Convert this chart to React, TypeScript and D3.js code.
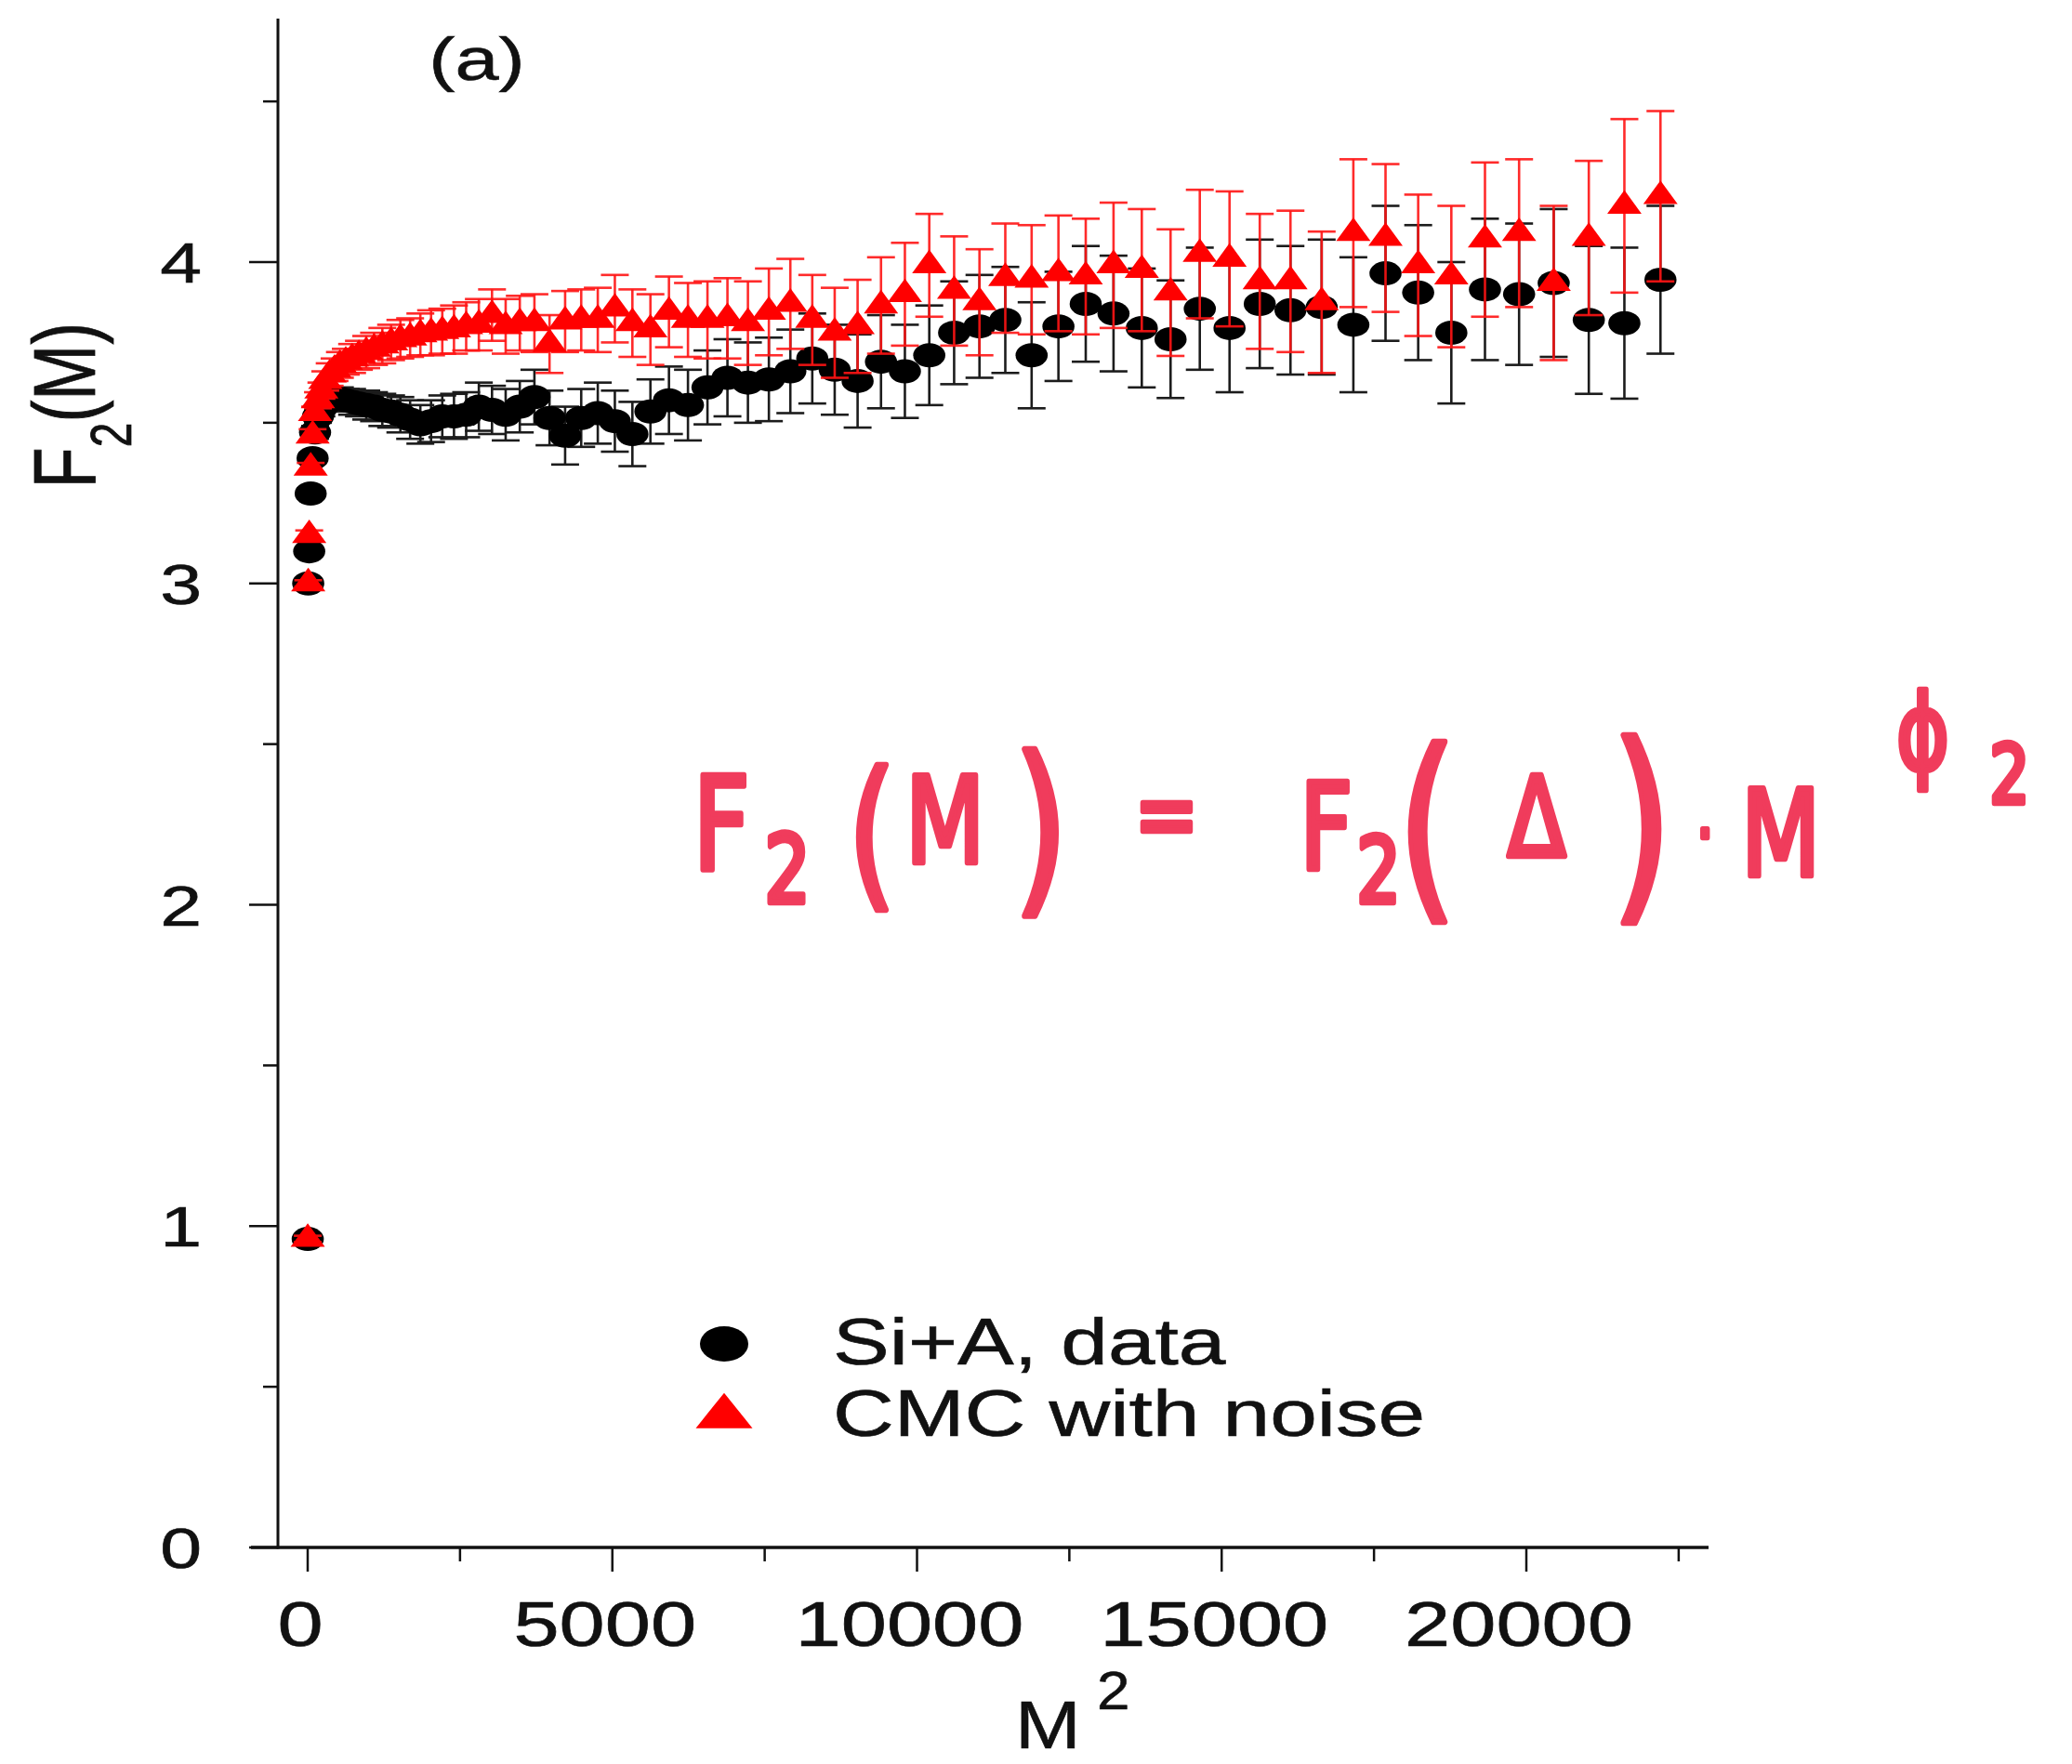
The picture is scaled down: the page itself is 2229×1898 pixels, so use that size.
import React, { useEffect, useRef } from 'react';
import * as d3 from 'd3';

// M^2 bins (odd M from 1 to 149)
const m2Values = [
  1, 9, 25, 49, 81, 121, 169, 225, 289, 361,
  441, 529, 625, 729, 841, 961, 1089, 1225, 1369, 1521,
  1681, 1849, 2025, 2209, 2401, 2601, 2809, 3025, 3249, 3481,
  3721, 3969, 4225, 4489, 4761, 5041, 5329, 5625, 5929, 6241,
  6561, 6889, 7225, 7569, 7921, 8281, 8649, 9025, 9409, 9801,
  10201, 10609, 11025, 11449, 11881, 12321, 12769, 13225, 13689, 14161,
  14641, 15129, 15625, 16129, 16641, 17161, 17689, 18225, 18769, 19321,
  19881, 20449, 21025, 21609, 22201,
];

// Si+A, data
const siaF2 = [
  0.96, 3.00, 3.10, 3.28, 3.39,
  3.47, 3.52, 3.545, 3.56, 3.57,
  3.575, 3.575, 3.57, 3.565, 3.56,
  3.555, 3.55, 3.54, 3.535, 3.525,
  3.51, 3.495, 3.505, 3.52, 3.52,
  3.525, 3.55, 3.54, 3.525, 3.55,
  3.58, 3.515, 3.46, 3.515, 3.53,
  3.505, 3.465, 3.535, 3.57, 3.555,
  3.61, 3.64, 3.625, 3.635, 3.66,
  3.70, 3.665, 3.63, 3.69, 3.66,
  3.71, 3.78, 3.80, 3.82, 3.71,
  3.80, 3.87, 3.84, 3.795, 3.76,
  3.855, 3.795, 3.87, 3.85, 3.86,
  3.805, 3.965, 3.905, 3.78, 3.915,
  3.90, 3.935, 3.82, 3.81, 3.945,
];
const siaErr = [
  0.01, 0.01, 0.01, 0.015, 0.015,
  0.02, 0.02, 0.025, 0.025, 0.03,
  0.03, 0.035, 0.035, 0.04, 0.04,
  0.045, 0.045, 0.05, 0.05, 0.055,
  0.06, 0.06, 0.065, 0.065, 0.07,
  0.07, 0.075, 0.075, 0.08, 0.08,
  0.085, 0.085, 0.09, 0.09, 0.095,
  0.095, 0.1, 0.1, 0.105, 0.11,
  0.115, 0.12, 0.125, 0.13, 0.13,
  0.14, 0.14, 0.145, 0.145, 0.145,
  0.155, 0.16, 0.16, 0.165, 0.165,
  0.17, 0.18, 0.18, 0.185, 0.183,
  0.19, 0.2, 0.2, 0.2, 0.21,
  0.21, 0.21, 0.21, 0.22, 0.22,
  0.22, 0.23, 0.23, 0.235, 0.23,
];

// CMC with noise
const cmcF2 = [
  0.96, 3.00, 3.15, 3.36, 3.46,
  3.53, 3.57, 3.60, 3.63, 3.65,
  3.665, 3.68, 3.69, 3.70, 3.71,
  3.72, 3.73, 3.74, 3.75, 3.76,
  3.765, 3.775, 3.78, 3.785, 3.79,
  3.80, 3.805, 3.835, 3.80, 3.81,
  3.81, 3.745, 3.815, 3.82, 3.82,
  3.855, 3.81, 3.79, 3.845, 3.82,
  3.82, 3.825, 3.81, 3.845, 3.87,
  3.82, 3.78, 3.80, 3.865, 3.90,
  3.99, 3.91, 3.875, 3.95, 3.945,
  3.965, 3.955, 3.99, 3.975, 3.905,
  4.025, 4.01, 3.94, 3.94, 3.875,
  4.09, 4.075, 3.99, 3.955, 4.07,
  4.09, 3.935, 4.075, 4.175, 4.205,
];
const cmcErr = [
  0.01, 0.01, 0.015, 0.015, 0.02,
  0.02, 0.025, 0.025, 0.03, 0.035,
  0.035, 0.04, 0.04, 0.045, 0.045,
  0.05, 0.05, 0.055, 0.055, 0.06,
  0.06, 0.065, 0.07, 0.07, 0.075,
  0.075, 0.08, 0.08, 0.085, 0.085,
  0.09, 0.09, 0.095, 0.095, 0.1,
  0.105, 0.105, 0.11, 0.11, 0.115,
  0.12, 0.125, 0.13, 0.135, 0.14,
  0.14, 0.14, 0.145, 0.15, 0.16,
  0.16, 0.17, 0.165, 0.17, 0.17,
  0.18, 0.18, 0.195, 0.19, 0.197,
  0.2, 0.21, 0.21, 0.22, 0.22,
  0.23, 0.23, 0.22, 0.22, 0.24,
  0.23, 0.24, 0.24, 0.27, 0.265,
];

const xMajorTicks = [0, 5000, 10000, 15000, 20000];
const xMinorTicks = [2500, 7500, 12500, 17500, 22500];
const yMajorTicks = [0, 1, 2, 3, 4];
const yMinorTicks = [0.5, 1.5, 2.5, 3.5, 4.5];
const legendLabels = ['Si+A, data', 'CMC with noise'];

const WIDTH = 2229;
const HEIGHT = 1898;
const FONT = '"Liberation Sans", Arial, Helvetica, sans-serif';
const PINK = '#f03c5c';

// handwritten annotation, one glyph per box [x0, x1, y0, y1]
const formulaGlyphs = [
  { ch: 'F', box: [753, 803, 832, 938] },
  { ch: '2', box: [822, 870, 893, 974] },
  { ch: '(', box: [924, 952, 820, 981] },
  { ch: 'M', box: [981, 1052, 832, 931] },
  { ch: ')', box: [1102, 1137, 803, 988] },
  { ch: '=', box: [1223, 1287, 860, 896] },
  { ch: 'F', box: [1400, 1457, 839, 938] },
  { ch: '2', box: [1459, 1505, 896, 974] },
  { ch: '(', box: [1516, 1555, 796, 995] },
  { ch: 'Δ', box: [1621, 1685, 832, 924] },
  { ch: ')', box: [1741, 1791, 789, 995] },
  { ch: '·', box: [1827, 1841, 889, 903] },
  { ch: 'M', box: [1876, 1955, 846, 945] },
  { ch: 'ϕ', box: [2040, 2097, 739, 853] },
  { ch: '2', box: [2118, 2204, 796, 867] },
];

function App() {
  const svgRef = useRef<SVGSVGElement>(null);

  useEffect(() => {
    if (!svgRef.current) return;
    const svg = d3.select(svgRef.current);
    svg.selectAll('*').remove();

    const x = d3.scaleLinear().domain([0, 20000]).range([331, 1642]);
    const y = d3.scaleLinear().domain([0, 4]).range([1665, 282]);
    const axisX = 299;
    const axisY = y(0);

    // text stretched horizontally like the original scan
    const label = (g, px, py, s, size, anchor, sx) =>
      g.append('text')
        .attr('transform', `translate(${px},${py}) scale(${sx},1)`)
        .attr('text-anchor', anchor)
        .attr('font-family', FONT)
        .attr('font-size', size)
        .attr('fill', '#111')
        .attr('stroke', '#111')
        .attr('stroke-width', 0.6)
        .text(s);

    // axes
    svg.append('line')
      .attr('x1', axisX).attr('x2', axisX)
      .attr('y1', 20).attr('y2', axisY + 1.5)
      .attr('stroke', '#111').attr('stroke-width', 3);
    svg.append('line')
      .attr('x1', 270).attr('x2', 1838)
      .attr('y1', axisY).attr('y2', axisY)
      .attr('stroke', '#111').attr('stroke-width', 3.5);

    // y ticks
    svg.selectAll('line.ymaj').data(yMajorTicks).join('line')
      .attr('class', 'ymaj')
      .attr('x1', axisX - 31).attr('x2', axisX)
      .attr('y1', d => y(d)).attr('y2', d => y(d))
      .attr('stroke', '#111').attr('stroke-width', 2.5);
    svg.selectAll('line.ymin').data(yMinorTicks).join('line')
      .attr('class', 'ymin')
      .attr('x1', axisX - 16).attr('x2', axisX)
      .attr('y1', d => y(d)).attr('y2', d => y(d))
      .attr('stroke', '#111').attr('stroke-width', 2.5);
    yMajorTicks.forEach(v => label(svg, 217, y(v) + 22, String(v), 62, 'end', 1.3));

    // x ticks
    svg.selectAll('line.xmaj').data(xMajorTicks).join('line')
      .attr('class', 'xmaj')
      .attr('x1', d => x(d)).attr('x2', d => x(d))
      .attr('y1', axisY).attr('y2', axisY + 26)
      .attr('stroke', '#111').attr('stroke-width', 2.5);
    svg.selectAll('line.xmin').data(xMinorTicks).join('line')
      .attr('class', 'xmin')
      .attr('x1', d => x(d)).attr('x2', d => x(d))
      .attr('y1', axisY).attr('y2', axisY + 15)
      .attr('stroke', '#111').attr('stroke-width', 2.5);
    xMajorTicks.forEach(v => label(svg, x(v) - 8, 1771, String(v), 68, 'middle', 1.3));

    // axis titles
    label(svg, 1092, 1881, 'M', 72, 'start', 1.18);
    label(svg, 1180, 1839, '2', 58, 'start', 1.1);

    const yTitle = svg.append('text')
      .attr('transform', 'translate(102,436) scale(1.3,1) rotate(-90)')
      .attr('text-anchor', 'middle')
      .attr('font-family', FONT)
      .attr('font-size', 72)
      .attr('fill', '#111')
      .attr('stroke', '#111')
      .attr('stroke-width', 0.6);
    yTitle.append('tspan').text('F');
    yTitle.append('tspan').attr('font-size', 48).attr('dy', 30).text('2');
    yTitle.append('tspan').attr('dy', -30).text('(M)');

    label(svg, 513, 86, '(a)', 65, 'middle', 1.3);

    const circle = d3.symbol(d3.symbolCircle, Math.PI * 13 * 13)();
    const triangle = d3.symbol(d3.symbolTriangle, 372)();

    const drawSeries = (vals, errs, color, barColor, shape, sx) => {
      const rows = m2Values.map((m, i) => ({ m, v: vals[i], e: errs[i] }));
      const g = svg.append('g');
      const bars = g.append('g')
        .attr('stroke', barColor).attr('stroke-width', 2.6).attr('fill', 'none');
      bars.selectAll('line.v').data(rows).join('line')
        .attr('class', 'v')
        .attr('x1', d => x(d.m)).attr('x2', d => x(d.m))
        .attr('y1', d => y(d.v + d.e)).attr('y2', d => y(d.v - d.e));
      bars.selectAll('line.t').data(rows).join('line')
        .attr('class', 't')
        .attr('x1', d => x(d.m) - 15).attr('x2', d => x(d.m) + 15)
        .attr('y1', d => y(d.v + d.e)).attr('y2', d => y(d.v + d.e));
      bars.selectAll('line.b').data(rows).join('line')
        .attr('class', 'b')
        .attr('x1', d => x(d.m) - 15).attr('x2', d => x(d.m) + 15)
        .attr('y1', d => y(d.v - d.e)).attr('y2', d => y(d.v - d.e));
      g.selectAll('path.mk').data(rows).join('path')
        .attr('class', 'mk')
        .attr('d', shape)
        .attr('transform', d => `translate(${x(d.m)},${y(d.v)}) scale(${sx},1)`)
        .attr('fill', color);
    };

    drawSeries(siaF2, siaErr, '#000', '#1c1c1c', circle, 1.33);
    drawSeries(cmcF2, cmcErr, '#ff0000', 'rgba(255,20,20,0.9)', triangle, 1.26);

    // legend
    const legend = svg.append('g');
    legend.append('path')
      .attr('d', d3.symbol(d3.symbolCircle, Math.PI * 19 * 19)())
      .attr('transform', 'translate(779,1446) scale(1.37,1)')
      .attr('fill', '#000');
    legend.append('path')
      .attr('d', d3.symbol(d3.symbolTriangle, 834)())
      .attr('transform', 'translate(779,1524) scale(1.39,1)')
      .attr('fill', '#ff0000');
    label(legend, 896, 1468, legendLabels[0], 70, 'start', 1.3);
    label(legend, 896, 1545, legendLabels[1], 70, 'start', 1.3);

    // handwritten formula: one text, each glyph sized to its box
    const ctx = document.createElement('canvas').getContext('2d');
    const fontName = '"DejaVu Sans"';
    ctx.font = `100px ${fontName}`;
    const sw = 5;
    const stretchY = 1.3;
    const formula = svg.append('text')
      .attr('transform', `scale(1,${stretchY})`)
      .attr('font-family', fontName)
      .attr('fill', PINK)
      .attr('stroke', PINK)
      .attr('stroke-width', sw)
      .attr('stroke-linejoin', 'round')
      .attr('vector-effect', 'non-scaling-stroke');
    formulaGlyphs.forEach(({ ch, box }) => {
      const [x0, x1, y0, y1] = box;
      const m = ctx.measureText(ch);
      const asc = m.actualBoundingBoxAscent / 100;
      const desc = m.actualBoundingBoxDescent / 100;
      const bl = m.actualBoundingBoxLeft / 100;
      const br = m.actualBoundingBoxRight / 100;
      const f = (y1 - y0 - sw) / ((asc + desc) * stretchY);
      const inkW = (bl + br) * f;
      const gx = (x0 + x1) / 2 - inkW / 2 + bl * f;
      const gy = (y0 + sw / 2) / stretchY + asc * f;
      formula.append('tspan')
        .attr('x', gx)
        .attr('y', gy)
        .attr('font-size', f)
        .text(ch);
    });
  }, []);

  return (
    <svg
      ref={svgRef}
      width={WIDTH}
      height={HEIGHT}
      style={{ position: 'absolute', left: 0, top: 0, background: '#fff', display: 'block' }}
    />
  );
}

export default App;
